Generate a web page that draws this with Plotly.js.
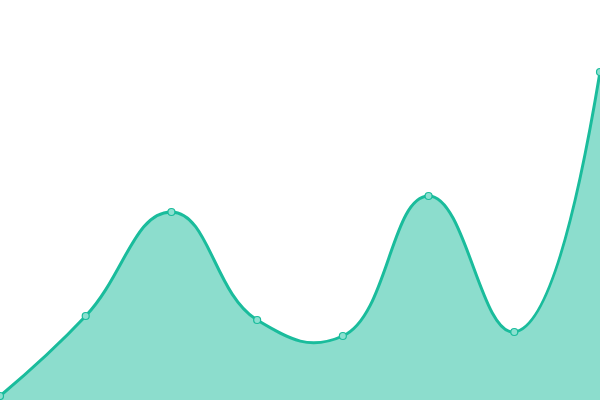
<!DOCTYPE html>
<html>
<head>
<meta charset="utf-8">
<script src="https://cdn.plot.ly/plotly-3.0.1.min.js"></script>
<style>
  html, body { margin: 0; padding: 0; background: #fff; }
  #chart { width: 600px; height: 400px; }
</style>
</head>
<body>
<div id="chart"></div>
<script>
"use strict";

const xs = [0, 1, 2, 3, 4, 5, 6, 7];
const values = [1, 21, 47, 20, 16, 51, 17, 82];

const LINE = "#1abc9c";

const trace = {
  type: "scatter",
  mode: "lines+markers",
  x: xs,
  y: values,
  fill: "tozeroy",
  fillcolor: "rgba(26,188,156,0.5)",
  line: { color: LINE, width: 3, shape: "spline", smoothing: 1.3 },
  marker: { size: 7, color: "#8be0d0", line: { color: LINE, width: 1.2 } },
  cliponaxis: false,
  hoverinfo: "none",
};

const layout = {
  width: 600,
  height: 400,
  margin: { t: 0, r: 0, b: 0, l: 0 },
  paper_bgcolor: "#fff",
  plot_bgcolor: "#fff",
  showlegend: false,
  xaxis: { range: [0, 7], visible: false, fixedrange: true },
  yaxis: { range: [0, 100], visible: false, fixedrange: true },
};

Plotly.newPlot("chart", [trace], layout, { displayModeBar: false, staticPlot: true });
</script>
</body>
</html>
